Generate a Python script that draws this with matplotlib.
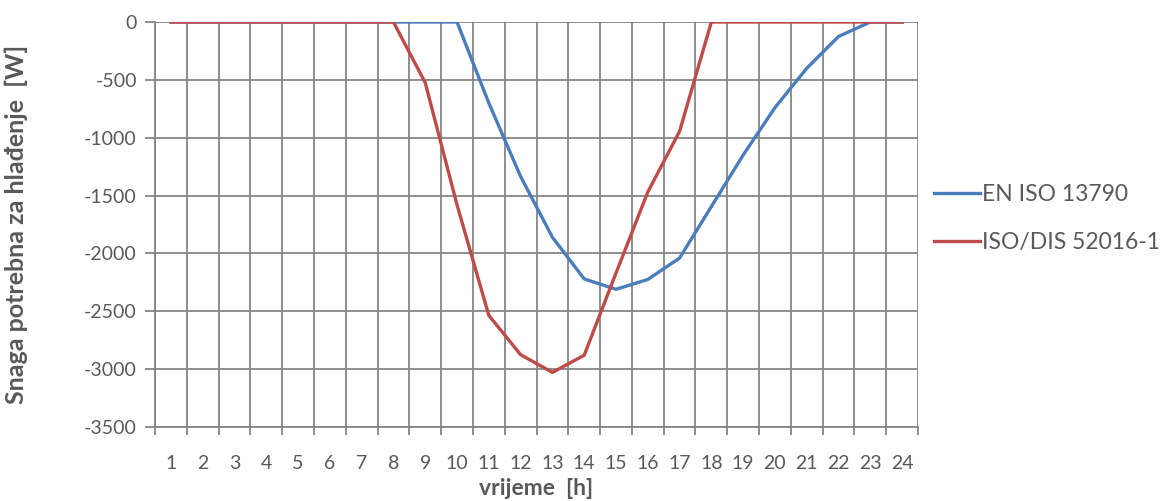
import matplotlib
matplotlib.use("Agg")
import matplotlib.pyplot as plt
import numpy as np

hours = list(range(1, 25))
en_iso_13790 = [0, 0, 0, 0, 0, 0, 0, 0, 0, 0, -700, -1335, -1860, -2220, -2310,
                -2225, -2040, -1595, -1150, -740, -400, -125, 0, 0]
iso_dis_52016 = [0, 0, 0, 0, 0, 0, 0, 0, -525, -1580, -2535, -2875, -3028, -2880,
                 -2170, -1470, -945, 0, 0, 0, 0, 0, 0, 0]
y_ticks = [0, -500, -1000, -1500, -2000, -2500, -3000, -3500]

plt.rcParams['font.family'] = ['Lato', 'DejaVu Sans']
txt = '#595959'
grid_c = '#868686'

fig = plt.figure(figsize=(11.64, 5.01), dpi=100)
ax = fig.add_axes([155/1164, 1 - 427/501, (918-155)/1164, (427-22)/501])

ax.plot(hours, en_iso_13790, color='#4A7EBB', lw=2.4, label='EN ISO 13790',
        solid_joinstyle='round', zorder=3)
ax.plot(hours, iso_dis_52016, color='#BE4B48', lw=2.4, label='ISO/DIS 52016-1',
        solid_joinstyle='round', zorder=3)

ax.set_xlim(0.5, 24.5)
ax.set_ylim(-3500, 0)
ax.set_xticks(hours)
ax.set_xticklabels([str(h) for h in hours])
ax.set_xticks(np.arange(0.5, 25, 1), minor=True)
ax.set_yticks(y_ticks)
ax.set_yticklabels([str(v) for v in y_ticks])

ax.grid(True, which='minor', axis='x', color=grid_c, lw=1.3)
ax.grid(True, which='major', axis='y', color=grid_c, lw=1.3)
ax.set_axisbelow(True)

ax.tick_params(axis='x', which='major', length=0, pad=20, labelsize=14, labelcolor=txt)
ax.tick_params(axis='x', which='minor', length=6, color=grid_c, width=1.3, direction='out')
ax.tick_params(axis='y', which='major', length=7, color=grid_c, width=1.3, pad=6,
               labelsize=14, labelcolor=txt)

for s in ['top', 'right']:
    ax.spines[s].set_visible(False)
for s in ['left', 'bottom']:
    ax.spines[s].set_color(grid_c)
    ax.spines[s].set_linewidth(1.3)

ax.set_xlabel('vrijeme  [h]', fontsize=16.5, fontweight='bold', color=txt)
ax.xaxis.set_label_coords(0.5, -0.125)
ax.set_ylabel('Snaga potrebna za hlađenje  [W]', fontsize=18, fontweight='bold',
              color=txt)
ax.yaxis.set_label_coords(-0.166, 0.5)

leg = ax.legend(loc='center left', bbox_to_anchor=(1.0, 0.515), frameon=False,
                fontsize=16.5, handlelength=2.0, handletextpad=0.1, labelspacing=1.15,
                borderaxespad=0.3)
for t in leg.get_texts():
    t.set_color(txt)

fig.savefig('out.png', dpi=100)
